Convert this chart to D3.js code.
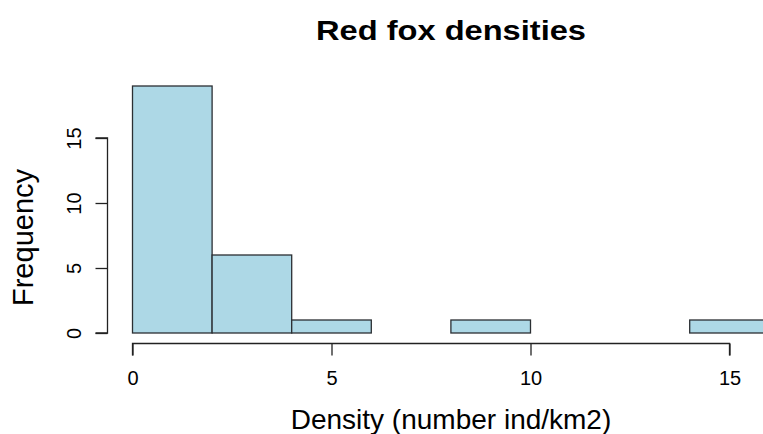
<!DOCTYPE html>
<html>
<head>
<meta charset="utf-8">
<script src="https://cdn.jsdelivr.net/npm/d3@7/dist/d3.min.js"></script>
<style>
  html, body { margin: 0; padding: 0; background: #ffffff; }
  svg { display: block; }
  text { font-family: "Liberation Sans", Arial, Helvetica, sans-serif; fill: #000; }
</style>
</head>
<body>
<div id="chart"></div>
<script>
// Histogram bins of red fox densities (ind/km2), width 2
const binStarts = [0, 2, 4, 6, 8, 10, 12, 14];
const binWidth = 2;
const counts = [19, 6, 1, 0, 1, 0, 0, 1];

const xTicks = [0, 5, 10, 15];
const yTicks = [0, 5, 10, 15];

const titleText = "Red fox densities";
const xLabel = "Density (number ind/km2)";
const yLabel = "Frequency";

const W = 763, H = 434;
const tickFont = "20px";

const svg = d3.select("#chart").append("svg")
  .attr("width", W).attr("height", H);

// Plot frame in pixels
const x = d3.scaleLinear().domain([0, 15]).range([132.5, 729.5]);
const y = d3.scaleLinear().domain([0, 15]).range([333, 138]);

// Bars
svg.append("g").selectAll("rect")
  .data(binStarts.map((s, i) => ({ s, c: counts[i] })))
  .join("rect")
  .attr("x", d => x(d.s))
  .attr("y", d => y(d.c))
  .attr("width", d => x(d.s + binWidth) - x(d.s))
  .attr("height", d => y(0) - y(d.c))
  .attr("fill", "#add8e6")
  .attr("stroke", "#2b2f33")
  .attr("stroke-width", 1.3);

// X axis (offset below the bars)
const xAxis = d3.axisBottom(x).tickValues(xTicks).tickSize(12).tickPadding(15.5)
  .tickFormat(d3.format("d"));
const gx = svg.append("g").attr("transform", "translate(0,343.5)").call(xAxis);
gx.attr("font-size", null).attr("font-family", null);
gx.select(".domain").attr("d", `M${x(0)},12V0H${x(15)}V12`).attr("stroke", "#222").attr("stroke-width", 1.3);
gx.selectAll(".tick line").attr("stroke", "#222").attr("stroke-width", 1.3);
gx.selectAll(".tick text").style("font-size", tickFont);

// Y axis (offset left of the bars)
const yAxis = d3.axisLeft(y).tickValues(yTicks).tickSize(12).tickFormat(d3.format("d"));
const gy = svg.append("g").attr("transform", "translate(107.5,0)").call(yAxis);
gy.attr("font-size", null).attr("font-family", null);
gy.select(".domain").attr("d", `M-12,${y(0)}H0V${y(15)}H-12`).attr("stroke", "#222").attr("stroke-width", 1.3);
gy.selectAll(".tick line").attr("stroke", "#222").attr("stroke-width", 1.3);
gy.selectAll(".tick text")
  .attr("x", null)
  .attr("transform", "translate(-27,0) rotate(-90)")
  .attr("text-anchor", "middle")
  .attr("dy", "0")
  .style("font-size", tickFont);

// Title
svg.append("text")
  .attr("x", 451).attr("y", 39.5)
  .attr("text-anchor", "middle")
  .attr("textLength", 270)
  .attr("lengthAdjust", "spacingAndGlyphs")
  .style("font-size", "28.5px").style("font-weight", "bold")
  .text(titleText);

// Axis labels
svg.append("text")
  .attr("x", 451).attr("y", 429)
  .attr("text-anchor", "middle")
  .style("font-size", "28px")
  .text(xLabel);

svg.append("text")
  .attr("transform", `translate(33,${(y(0) + y(15)) / 2 + 2}) rotate(-90)`)
  .attr("text-anchor", "middle")
  .style("font-size", "29px")
  .text(yLabel);
</script>
</body>
</html>
